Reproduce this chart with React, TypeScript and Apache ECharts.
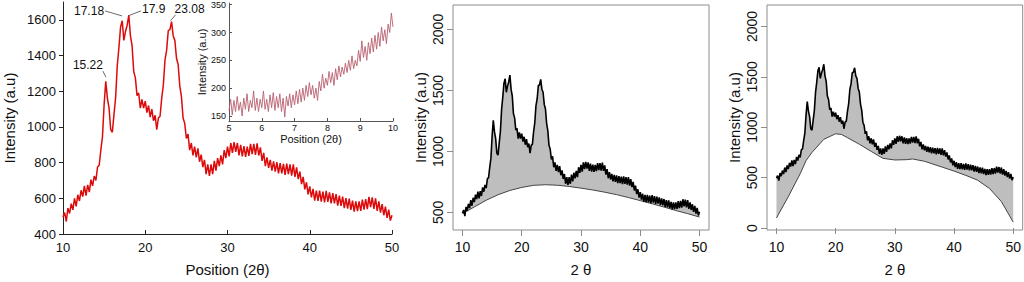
import React, { useEffect, useRef } from 'react';
import * as echarts from 'echarts';

// ---------- data ----------
const X_START = 10;
const X_STEP = 0.2;
// XRD intensity, 10..50 (2θ) every 0.2
const intensity = [
  495, 520, 470, 545, 515, 570, 535, 600, 555, 620,
  585, 645, 610, 670, 615, 675, 635, 705, 670, 725,
  700, 775, 785, 870, 945, 1125, 1255, 1160, 1105, 985,
  970, 1070, 1165, 1345, 1445, 1560, 1595, 1485, 1535, 1570,
  1625, 1510, 1455, 1310, 1275, 1175, 1190, 1105, 1155, 1105,
  1145, 1080, 1120, 1055, 1100, 1035, 1065, 985, 1050, 1060,
  1160, 1235, 1375, 1430, 1540, 1545, 1590, 1510, 1485, 1385,
  1350, 1230, 1170, 1050, 1020, 935, 960, 870, 910, 840,
  890, 830, 880, 805, 845, 775, 815, 735, 790, 725,
  790, 735, 810, 755, 825, 780, 840, 790, 870, 825,
  890, 835, 910, 855, 915, 860, 910, 840, 900, 835,
  892, 832, 890, 838, 905, 847, 905, 843, 908, 840,
  885, 810, 855, 780, 830, 770, 815, 755, 807, 750,
  803, 740, 797, 740, 793, 731, 795, 735, 790, 727,
  790, 720, 773, 708, 750, 680, 720, 650, 690, 622,
  667, 605, 653, 587, 643, 585, 643, 582, 637, 577,
  642, 580, 633, 571, 629, 572, 623, 559, 615, 557,
  610, 545, 601, 542, 598, 535, 587, 525, 583, 528,
  583, 530, 593, 536, 595, 539, 608, 550, 605, 541,
  600, 530, 583, 520, 567, 505, 553, 490, 537, 475,
  505,
];

const INSET_START = 5;
const INSET_STEP = 0.05;
const insetIntensity = [
  160, 180, 152, 178, 158, 185, 160, 175, 150, 182, 162, 190, 158, 178, 165, 195, 160, 182, 158, 180,
  165, 195, 162, 180, 158, 188, 165, 192, 160, 185, 165, 190, 158, 182, 148, 185, 168, 190, 165, 188,
  170, 195, 172, 198, 175, 200, 178, 205, 185, 210, 188, 205, 182, 200, 178, 212, 195, 225, 200, 218,
  205, 230, 210, 228, 205, 235, 215, 240, 220, 238, 225, 245, 228, 250, 232, 258, 235, 250, 240, 268,
  248, 285, 255, 275, 250, 282, 262, 290, 265, 295, 270, 300, 275, 310, 285, 305, 280, 315, 300, 335,
  310,
];

const baselineMidX = [10, 12, 14, 16, 18, 20, 22, 24, 26, 28, 30, 32, 34, 36, 38, 40, 42, 44, 46, 48, 50];
const baselineMid = [490, 545, 600, 645, 680, 705, 722, 727, 723, 713, 699, 684, 666, 646, 622, 597, 571, 544, 516, 490, 462];

const baselineRightX = [10, 12, 14, 15, 16, 18, 20, 21, 22, 24, 26, 28, 30, 32, 33, 35, 38, 40, 42, 44, 46, 48, 50];
const baselineRight = [100, 311, 538, 669, 750, 880, 935, 928, 896, 831, 760, 691, 675, 678, 685, 662, 604, 565, 522, 474, 392, 262, 58];

const peakLabels = ['15.22', '17.18', '17.9', '23.08'];
const peakX = [15.22, 17.18, 17.9, 23.08];
const peakY = [1279, 1622, 1622, 1595];

const mainXTicks = [10, 20, 30, 40, 50];
const mainYTicks = [400, 600, 800, 1000, 1200, 1400, 1600];
const insetXTicks = [5, 6, 7, 8, 9, 10];
const insetYTicks = [150, 200, 250, 300, 350];
const midYTicks = [500, 1000, 1500, 2000];
const rightYTicks = [0, 500, 1000, 1500, 2000];

// ---------- styles ----------
const FONT = '"Liberation Sans", Arial, Helvetica, sans-serif';
const TXT = '#111';
const BOX = '#8c8c8c';
const plain = (v: number) => String(v);
const ANNOT = [
  { lx: -3, ly: -6, tx: -3, ty: -12, align: 'right' },
  { lx: -17, ly: -5, tx: -18, ty: -5, align: 'right' },
  { lx: 13, ly: -5, tx: 14, ty: -7, align: 'left' },
  { lx: 5, ly: -6, tx: 4, ty: -12, align: 'left' },
];

const mainPairs = intensity.map((v, i) => [X_START + i * X_STEP, v]);
const insetPairs = insetIntensity.map((v, i) => [INSET_START + i * INSET_STEP, v]);

function fillSeries(axisIndex: number, bx: number[], by: number[]) {
  return {
    type: 'custom',
    xAxisIndex: axisIndex,
    yAxisIndex: axisIndex,
    data: [[30, 1000]],
    silent: true,
    renderItem: (_params: any, api: any) => {
      const pts: number[][] = [];
      for (let i = 0; i < mainPairs.length; i++) pts.push(api.coord(mainPairs[i]));
      for (let i = bx.length - 1; i >= 0; i--) pts.push(api.coord([bx[i], by[i]]));
      return { type: 'polygon', shape: { points: pts }, style: { fill: '#bebebe' } };
    },
  };
}

function rBoxXAxis(gridIndex: number) {
  return {
    gridIndex,
    type: 'value',
    min: 8.4,
    max: 51.6,
    axisLine: { show: false },
    axisTick: { show: true, inside: false, length: 6, customValues: mainXTicks, lineStyle: { color: BOX } },
    axisLabel: { customValues: mainXTicks, formatter: plain, fontSize: 14, color: TXT, margin: 10, fontFamily: FONT },
    splitLine: { show: false },
    name: '2 θ',
    nameLocation: 'middle',
    nameGap: 32,
    nameTextStyle: { fontSize: 15, color: TXT, fontFamily: FONT },
  };
}

function rBoxYAxis(gridIndex: number, min: number, max: number, ticks: number[]) {
  return {
    gridIndex,
    type: 'value',
    min,
    max,
    axisLine: { show: false },
    axisTick: { show: true, inside: false, length: 6, customValues: ticks, lineStyle: { color: BOX } },
    axisLabel: { customValues: ticks, formatter: plain, rotate: 90, fontSize: 14, color: TXT, margin: 8, fontFamily: FONT },
    splitLine: { show: false },
    name: 'Intensity (a.u)',
    nameLocation: 'middle',
    nameGap: 25,
    nameTextStyle: { fontSize: 15, color: TXT, fontFamily: FONT },
  };
}

export default function App() {
  const ref = useRef<HTMLDivElement>(null);

  useEffect(() => {
    document.body.style.margin = '0';
    const chart = echarts.init(ref.current!, undefined, { renderer: 'svg' });
    const option: any = {
      animation: false,
      textStyle: { fontFamily: FONT },
      grid: [
        { left: 63, top: 2, width: 329, height: 235, show: false },
        { left: 229, top: 3, width: 164, height: 118, show: false },
        { left: 453, top: 5, width: 256, height: 229, show: true, borderColor: BOX, borderWidth: 1 },
        { left: 767, top: 5, width: 256, height: 229, show: true, borderColor: BOX, borderWidth: 1 },
      ],
      xAxis: [
        {
          gridIndex: 0,
          type: 'value',
          min: 10,
          max: 50,
          axisLine: { show: true, lineStyle: { color: '#222', width: 1 } },
          axisTick: { show: true, inside: true, length: 4, customValues: mainXTicks, lineStyle: { color: '#222' } },
          axisLabel: { customValues: mainXTicks, formatter: plain, fontSize: 13, color: TXT, margin: 7, fontFamily: FONT },
          splitLine: { show: false },
          name: 'Position (2θ)',
          nameLocation: 'middle',
          nameGap: 28,
          nameTextStyle: { fontSize: 15, color: TXT, fontFamily: FONT },
        },
        {
          gridIndex: 1,
          type: 'value',
          min: 5,
          max: 10,
          axisLine: { show: true, lineStyle: { color: '#555', width: 1 } },
          axisTick: { show: true, inside: true, length: 3, customValues: insetXTicks, lineStyle: { color: '#555' } },
          axisLabel: { customValues: insetXTicks, formatter: plain, fontSize: 9, color: TXT, margin: 2, fontFamily: FONT },
          splitLine: { show: false },
          name: 'Position (2θ)',
          nameLocation: 'middle',
          nameGap: 12,
          nameTextStyle: { fontSize: 11, color: TXT, fontFamily: FONT },
        },
        rBoxXAxis(2),
        rBoxXAxis(3),
      ],
      yAxis: [
        {
          gridIndex: 0,
          type: 'value',
          min: 400,
          max: 1700,
          axisLine: { show: true, lineStyle: { color: '#222', width: 1 } },
          axisTick: { show: true, inside: false, length: 4, customValues: mainYTicks, lineStyle: { color: '#222' } },
          axisLabel: { customValues: mainYTicks, formatter: plain, fontSize: 13, color: TXT, margin: 7, fontFamily: FONT },
          splitLine: { show: false },
          name: 'Intensity (a.u)',
          nameLocation: 'middle',
          nameGap: 46,
          nameTextStyle: { fontSize: 15, color: TXT, fontFamily: FONT },
        },
        {
          gridIndex: 1,
          type: 'value',
          min: 141,
          max: 353,
          axisLine: { show: true, lineStyle: { color: '#555', width: 1 } },
          axisTick: { show: true, inside: true, length: 3, customValues: insetYTicks, lineStyle: { color: '#555' } },
          axisLabel: { customValues: insetYTicks, formatter: plain, fontSize: 9, color: TXT, margin: 3, fontFamily: FONT },
          splitLine: { show: false },
          name: 'Intensity (a.u)',
          nameLocation: 'middle',
          nameGap: 22,
          nameTextStyle: { fontSize: 11, color: TXT, fontFamily: FONT },
        },
        rBoxYAxis(2, 356, 2200, midYTicks),
        rBoxYAxis(3, -20, 2213, rightYTicks),
      ],
      series: [
        {
          type: 'line',
          xAxisIndex: 0,
          yAxisIndex: 0,
          data: mainPairs,
          showSymbol: false,
          lineStyle: { color: '#dc0a0a', width: 1.5 },
          silent: true,
        },
        {
          type: 'custom',
          xAxisIndex: 0,
          yAxisIndex: 0,
          data: peakX.map((x, i) => [x, peakY[i]]),
          silent: true,
          renderItem: (params: any, api: any) => {
            const i = params.dataIndex;
            const p = api.coord([api.value(0), api.value(1)]);
            const o = ANNOT[i];
            return {
              type: 'group',
              children: [
                {
                  type: 'line',
                  shape: { x1: p[0], y1: p[1], x2: p[0] + o.lx, y2: p[1] + o.ly },
                  style: { stroke: '#444', lineWidth: 0.8 },
                },
                {
                  type: 'text',
                  x: p[0] + o.tx,
                  y: p[1] + o.ty,
                  style: {
                    text: peakLabels[i],
                    fontSize: 12,
                    fontFamily: FONT,
                    fill: TXT,
                    align: o.align,
                    verticalAlign: 'middle',
                  },
                },
              ],
            };
          },
        },
        {
          type: 'line',
          xAxisIndex: 1,
          yAxisIndex: 1,
          data: insetPairs,
          showSymbol: false,
          lineStyle: { color: '#b9606f', width: 0.9 },
          silent: true,
        },
        fillSeries(2, baselineMidX, baselineMid),
        {
          type: 'line',
          xAxisIndex: 2,
          yAxisIndex: 2,
          data: baselineMidX.map((x, i) => [x, baselineMid[i]]),
          showSymbol: false,
          lineStyle: { color: '#444', width: 1 },
          silent: true,
        },
        {
          type: 'line',
          xAxisIndex: 2,
          yAxisIndex: 2,
          data: mainPairs,
          showSymbol: false,
          lineStyle: { color: '#000', width: 1.6 },
          silent: true,
        },
        fillSeries(3, baselineRightX, baselineRight),
        {
          type: 'line',
          xAxisIndex: 3,
          yAxisIndex: 3,
          data: baselineRightX.map((x, i) => [x, baselineRight[i]]),
          showSymbol: false,
          lineStyle: { color: '#444', width: 1 },
          silent: true,
        },
        {
          type: 'line',
          xAxisIndex: 3,
          yAxisIndex: 3,
          data: mainPairs,
          showSymbol: false,
          lineStyle: { color: '#000', width: 1.6 },
          silent: true,
        },
      ],
    };
    chart.setOption(option);
    return () => chart.dispose();
  }, []);

  return <div ref={ref} style={{ width: 1024, height: 282 }} />;
}
